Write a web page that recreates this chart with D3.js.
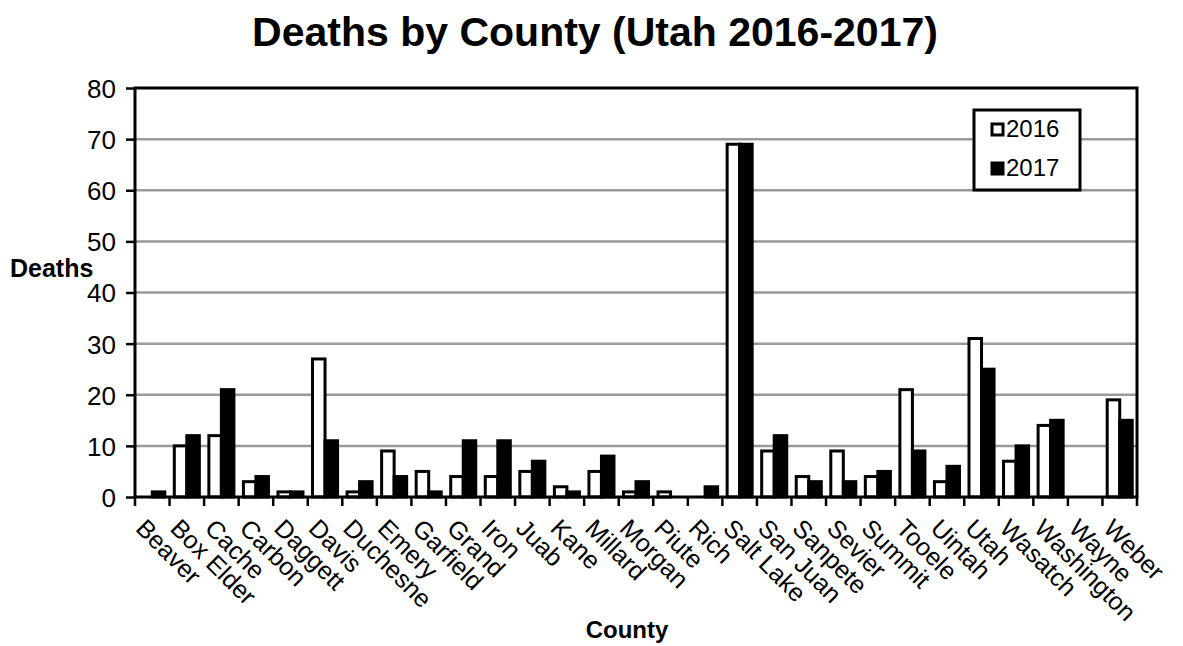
<!DOCTYPE html>
<html>
<head>
<meta charset="utf-8">
<script src="https://cdn.jsdelivr.net/npm/d3@7"></script>
<style>
  body { margin: 0; background: #fff; }
  text { font-family: "Liberation Sans", Arial, sans-serif; fill: #000; }
</style>
</head>
<body>
<div id="chart"></div>
<script>
// County names along the x axis
var counties = ["Beaver", "Box Elder", "Cache", "Carbon", "Daggett", "Davis", "Duchesne",
    "Emery", "Garfield", "Grand", "Iron", "Juab", "Kane", "Millard", "Morgan", "Piute",
    "Rich", "Salt Lake", "San Juan", "Sanpete", "Sevier", "Summit", "Tooele", "Uintah",
    "Utah", "Wasatch", "Washington", "Wayne", "Weber"];

// Deaths per county
var deaths2016 = [0, 10, 12, 3, 1, 27, 1, 9, 5, 4, 4, 5, 2, 5, 1, 1, 0, 69, 9, 4, 9, 4, 21, 3, 31, 7, 14, 0, 19];
var deaths2017 = [1, 12, 21, 4, 1, 11, 3, 4, 1, 11, 11, 7, 1, 8, 3, 0, 2, 69, 12, 3, 3, 5, 9, 6, 25, 10, 15, 0, 15];

var years = ["2016", "2017"];
var yTicks = [0, 10, 20, 30, 40, 50, 60, 70, 80];

var w = 1183, h = 646;
var pLeft = 135, pRight = 1137, pTop = 88, pBottom = 497;

var svg = d3.select("#chart")
            .append("svg")
            .attr("width", w)
            .attr("height", h);

// scales
var xScale = d3.scaleBand()
               .domain(counties)
               .range([pLeft, pRight]);

var xInner = d3.scaleBand()
               .domain(years)
               .range([0, xScale.bandwidth()])
               .paddingOuter(0.38);

var yScale = d3.scaleLinear()
               .domain([0, 80])
               .range([pBottom, pTop]);

// gridlines
svg.append("g")
    .selectAll("line")
    .data(yTicks.filter(function(d) { return d > 0 && d < 80; }))
    .enter()
    .append("line")
        .attr("x1", pLeft)
        .attr("x2", pRight)
        .attr("y1", function(d) { return yScale(d); })
        .attr("y2", function(d) { return yScale(d); })
        .attr("stroke", "#9a9a9a")
        .attr("stroke-width", 2.5);

// bars
var rows = counties.map(function(c, i) {
    return { county: c, values: [ { year: "2016", v: deaths2016[i] }, { year: "2017", v: deaths2017[i] } ] };
});

var groups = svg.append("g")
    .selectAll("g")
    .data(rows)
    .enter()
    .append("g")
        .attr("transform", function(d) { return "translate(" + xScale(d.county) + ",0)"; });

groups.selectAll("rect")
    .data(function(d) { return d.values; })
    .enter()
    .append("rect")
        .attr("x", function(d) { return xInner(d.year); })
        .attr("width", xInner.bandwidth())
        .attr("y", function(d) { return yScale(d.v); })
        .attr("height", function(d) { return pBottom - yScale(d.v); })
        .attr("fill", function(d) { return d.year == "2016" ? "#fff" : "#000"; })
        .attr("stroke", "#000")
        .attr("stroke-width", 3);

// y axis
var yAxis = d3.axisLeft(yScale)
              .tickValues(yTicks)
              .tickSize(9)
              .tickPadding(10);

var gy = svg.append("g")
    .attr("transform", "translate(" + pLeft + ",0)")
    .call(yAxis);
gy.select(".domain").remove();
gy.selectAll("line").attr("stroke", "#000").attr("stroke-width", 2.5);
gy.selectAll("text")
    .style("font-size", "26px")
    .style("font-family", "'Liberation Sans', Arial, sans-serif")
    .attr("fill", "#000")
    .attr("dy", "0.36em");

// x axis ticks at category boundaries
svg.append("g")
    .selectAll("line")
    .data(counties.concat(["end"]))
    .enter()
    .append("line")
        .attr("x1", function(d, i) { return pLeft + i * xScale.step(); })
        .attr("x2", function(d, i) { return pLeft + i * xScale.step(); })
        .attr("y1", pBottom)
        .attr("y2", pBottom + 9)
        .attr("stroke", "#000")
        .attr("stroke-width", 2.5);

// x labels
svg.append("g")
    .selectAll("text")
    .data(counties)
    .enter()
    .append("text")
        .attr("transform", function(d) {
            return "translate(" + (xScale(d) + xScale.bandwidth() / 2 - 4) + "," + 516 + ") rotate(45)";
        })
        .attr("dy", "0.78em")
        .style("font-size", "25px")
        .text(function(d) { return d; });

// plot frame
svg.append("rect")
    .attr("x", pLeft)
    .attr("y", pTop)
    .attr("width", pRight - pLeft)
    .attr("height", pBottom - pTop)
    .attr("fill", "none")
    .attr("stroke", "#000")
    .attr("stroke-width", 3);

// legend
var legend = svg.append("g").attr("transform", "translate(974,110)");
legend.append("rect")
    .attr("width", 106)
    .attr("height", 80)
    .attr("fill", "#fff")
    .attr("stroke", "#000")
    .attr("stroke-width", 3);

legend.selectAll("g")
    .data(years)
    .enter()
    .append("g")
    .each(function(d, i) {
        var g = d3.select(this);
        g.append("rect")
            .attr("x", 18)
            .attr("y", 14 + i * 39)
            .attr("width", 11)
            .attr("height", 11)
            .attr("fill", d == "2016" ? "#fff" : "#000")
            .attr("stroke", "#000")
            .attr("stroke-width", 3);
        g.append("text")
            .attr("x", 32)
            .attr("y", 27 + i * 39)
            .style("font-size", "24px")
            .text(d);
    });

// titles
svg.append("text")
    .attr("x", 595)
    .attr("y", 46)
    .attr("text-anchor", "middle")
    .style("font-size", "41px")
    .style("font-weight", "bold")
    .text("Deaths by County (Utah 2016-2017)");

svg.append("text")
    .attr("x", 10)
    .attr("y", 277)
    .style("font-size", "25px")
    .style("font-weight", "bold")
    .text("Deaths");

svg.append("text")
    .attr("x", 627)
    .attr("y", 638)
    .attr("text-anchor", "middle")
    .style("font-size", "24px")
    .style("font-weight", "bold")
    .text("County");
</script>
</body>
</html>
